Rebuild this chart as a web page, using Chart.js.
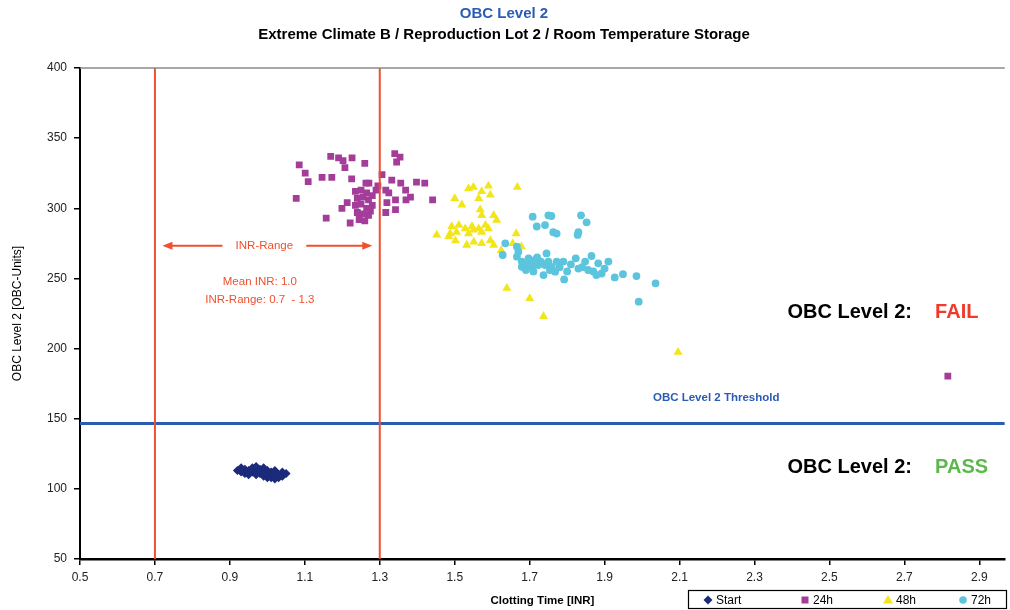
<!DOCTYPE html>
<html>
<head>
<meta charset="utf-8">
<script src="https://cdn.jsdelivr.net/npm/chart.js@4.4.1/dist/chart.umd.min.js"></script>
<style>
  html, body { margin: 0; padding: 0; background: #fff; }
</style>
</head>
<body>
<canvas id="chart" width="1010" height="610"></canvas>
<script>
// OBC Level 2 scatter

const series_names = ["Start", "24h", "48h", "72h"];

const start_pts = [
  [0.92,113],[0.93,112],[0.93,115],[0.94,111],[0.94,114],[0.95,113],[0.95,110],[0.96,112],
  [0.96,115],[0.97,113],[0.97,116],[0.97,110],[0.98,114],[0.98,111],[0.99,112],[0.99,109],
  [0.99,115],[1.00,113],[1.00,108],[1.00,110],[1.01,112],[1.01,108],[1.02,111],[1.02,107],
  [1.02,113],[1.03,110],[1.03,108],[1.04,112],[1.04,109],[1.05,111]
];

const h24_pts = [
  [1.085,331],[1.169,337],[1.202,334],[1.226,336],[1.207,329],[1.260,332],[1.101,325],[1.109,319],
  [1.146,322],[1.172,322],[1.225,321],[1.077,307],[1.157,293],[1.221,289.5],[1.199,300],[1.213,304],
  [1.271,318],[1.263,318],[1.340,339],[1.354,336.5],[1.345,333],[1.306,324],[1.332,320],[1.356,318],
  [1.369,313],[1.316,313],[1.324,311],[1.319,304],[1.342,306],[1.370,306],[1.382,308],[1.398,318.7],
  [1.420,318],[1.441,306],[1.342,299],[1.316,297],[1.235,312],[1.250,313],[1.265,311],[1.240,307],
  [1.255,308],[1.270,306],[1.280,309],[1.235,302],[1.250,303],[1.265,300],[1.280,302],[1.240,297],
  [1.255,296],[1.270,295],[1.245,292],[1.260,291],[1.275,298],[1.290,313],[1.295,316],[1.190,336],
  [2.816,180.4]
];

const h48_pts = [
  [1.537,314.2],[1.550,315],[1.572,312],[1.590,316],[1.595,309.5],[1.500,307],[1.519,302.5],[1.564,307],
  [1.667,315],[1.568,299],[1.572,295],[1.604,295],[1.612,291.6],[1.492,287],[1.511,288],[1.528,285.5],
  [1.546,287],[1.564,285.5],[1.582,288],[1.590,285.5],[1.488,282],[1.505,283],[1.537,282],[1.550,284.6],
  [1.572,283],[1.452,281],[1.484,280],[1.502,276.9],[1.532,273.8],[1.551,276],[1.572,275],[1.595,277],
  [1.604,273.8],[1.664,282],[1.624,270],[1.639,243],[1.700,235.7],[1.737,223],[1.678,272.6],[1.697,258],
  [1.655,275],[2.096,197.5]
];

const h72_pts = [
  [1.708,294],[1.750,295],[1.758,294.5],[1.719,287],[1.741,288],[1.763,283],[1.772,282],[1.837,295],
  [1.852,290],[1.830,283],[1.828,281],[1.635,275],[1.666,272.6],[1.628,266.7],[1.666,265.5],[1.670,269],
  [1.697,264.3],[1.714,263],[1.688,259.5],[1.706,258.3],[1.723,259.5],[1.679,262],[1.679,258.3],[1.741,259.5],
  [1.759,258.3],[1.745,267.8],[1.772,262],[1.790,262],[1.754,256],[1.737,252.4],[1.768,254.8],[1.792,249.3],
  [1.823,264.3],[1.848,262],[1.865,266],[1.830,257],[1.856,256],[1.883,260.8],[1.910,262],[1.892,253.5],
  [1.878,252.4],[1.927,250.7],[1.949,253],[1.985,251.7],[2.036,246.5],[1.991,233.4],[1.700,262],[1.720,265],
  [1.730,262],[1.690,256],[1.710,255],[1.750,262],[1.780,258],[1.800,255],[1.810,260],[1.840,258],
  [1.870,255],[1.900,257]
];

const x_ticks = [0.5,0.7,0.9,1.1,1.3,1.5,1.7,1.9,2.1,2.3,2.5,2.7,2.9];
const x_min = 0.5, x_max = 2.968;
const y_min = 50, y_max = 400, y_step = 50;

const inr_low = 0.7, inr_high = 1.3;
const threshold = 146.5;

const colors = ["#1c2a7c", "#a43d9a", "#f2e51a", "#5cc5dd"];
const red = "#f0502e";
const blue = "#2b5cb4";
const font = "'Liberation Sans', Arial, sans-serif";

function toXY(pts){
  return pts.map(p => ({x: p[0], y: p[1]}));
}

function vline(v){
  return [{x: v, y: y_min}, {x: v, y: y_max}];
}

// text and legend drawn on top of the plot
const overlay = {
  id: 'overlay',
  afterDatasetsDraw(chart){
    const {ctx, chartArea, scales} = chart;
    const x = scales.x, y = scales.y;
    ctx.save();

    // top frame line
    ctx.strokeStyle = "#8a8a8a";
    ctx.lineWidth = 1.5;
    ctx.beginPath();
    ctx.moveTo(chartArea.left, chartArea.top);
    ctx.lineTo(chartArea.right, chartArea.top);
    ctx.stroke();

    // INR-Range arrows
    const ay = y.getPixelForValue(273.3);
    const ax0 = x.getPixelForValue(0.72), ax1 = x.getPixelForValue(1.28);
    ctx.strokeStyle = red;
    ctx.fillStyle = red;
    ctx.lineWidth = 2;
    ctx.beginPath();
    ctx.moveTo(ax0 + 6, ay); ctx.lineTo(ax0 + 60, ay);
    ctx.moveTo(ax1 - 66, ay); ctx.lineTo(ax1 - 6, ay);
    ctx.stroke();
    ctx.beginPath();
    ctx.moveTo(ax0, ay); ctx.lineTo(ax0 + 10, ay - 4); ctx.lineTo(ax0 + 10, ay + 4); ctx.closePath();
    ctx.moveTo(ax1, ay); ctx.lineTo(ax1 - 10, ay - 4); ctx.lineTo(ax1 - 10, ay + 4); ctx.closePath();
    ctx.fill();

    ctx.textAlign = "center";
    ctx.textBaseline = "middle";
    ctx.font = "11.5px " + font;
    const cx = x.getPixelForValue(0.98);
    ctx.fillText("INR-Range", (ax0 + 60 + ax1 - 66) / 2, ay);
    ctx.fillText("Mean INR: 1.0", cx, y.getPixelForValue(247.6));
    ctx.fillText("INR-Range: 0.7  - 1.3", cx, y.getPixelForValue(235.1));

    // threshold label
    ctx.textAlign = "left";
    ctx.fillStyle = blue;
    ctx.font = "bold 11.5px " + font;
    ctx.fillText("OBC Level 2 Threshold", x.getPixelForValue(2.029), y.getPixelForValue(164.8));

    // FAIL / PASS
    ctx.font = "bold 20px " + font;
    ctx.fillStyle = "#000";
    const lx = x.getPixelForValue(2.388), rx = x.getPixelForValue(2.782);
    ctx.fillText("OBC Level 2:", lx, y.getPixelForValue(226));
    ctx.fillText("OBC Level 2:", lx, y.getPixelForValue(114.9));
    ctx.fillStyle = "#f03a2a";
    ctx.fillText("FAIL", rx, y.getPixelForValue(226));
    ctx.fillStyle = "#5cb84a";
    ctx.fillText("PASS", rx, y.getPixelForValue(114.9));
    ctx.restore();
  },
  afterDraw(chart){
    const ctx = chart.ctx;
    ctx.save();
    // legend box
    ctx.strokeStyle = "#000";
    ctx.lineWidth = 1.2;
    ctx.strokeRect(688.5, 590.5, 318, 18);
    const lx = [708, 805, 888, 963];
    const ly = 600;
    ctx.font = "12px " + font;
    ctx.textBaseline = "middle";
    ctx.textAlign = "left";
    series_names.forEach((name, i) => {
      const px = lx[i];
      ctx.fillStyle = colors[i];
      ctx.beginPath();
      if (i == 0){
        ctx.moveTo(px, ly - 4.5); ctx.lineTo(px + 4.5, ly); ctx.lineTo(px, ly + 4.5); ctx.lineTo(px - 4.5, ly);
        ctx.closePath();
      } else if (i == 1){
        ctx.rect(px - 3.5, ly - 3.5, 7, 7);
      } else if (i == 2){
        ctx.moveTo(px, ly - 5); ctx.lineTo(px + 5, ly + 3.5); ctx.lineTo(px - 5, ly + 3.5); ctx.closePath();
      } else {
        ctx.arc(px, ly, 3.8, 0, Math.PI * 2);
      }
      ctx.fill();
      ctx.fillStyle = "#000";
      ctx.fillText(name, px + 8, ly + 0.5);
    });
    ctx.restore();
  }
};

function scatterSet(label, pts, i, style, r, order){
  return {
    type: 'scatter',
    label: label,
    data: toXY(pts),
    pointStyle: style,
    pointRadius: r,
    pointHoverRadius: r,
    backgroundColor: colors[i],
    borderColor: colors[i],
    borderWidth: 0,
    order: order
  };
}

function lineSet(label, data, color, width){
  return {
    type: 'line',
    label: label,
    data: data,
    borderColor: color,
    borderWidth: width,
    pointRadius: 0,
    fill: false,
    order: 0
  };
}

const ctx = document.getElementById('chart');
const mychart = new Chart(ctx, {
  data: {
    datasets: [
      scatterSet(series_names[0], start_pts, 0, 'rectRot', 4.5, 4),
      scatterSet(series_names[1], h24_pts, 1, 'rect', 4.8, 3),
      scatterSet(series_names[2], h48_pts, 2, 'triangle', 5.2, 2),
      scatterSet(series_names[3], h72_pts, 3, 'circle', 3.9, 1),
      lineSet("INR low", vline(inr_low), red, 2),
      lineSet("INR high", vline(inr_high), red, 2),
      lineSet("OBC Level 2 Threshold", [{x: x_min, y: threshold}, {x: x_max, y: threshold}], blue, 3)
    ]
  },
  options: {
    responsive: false,
    animation: false,
    layout: {padding: {left: 0, right: 2, top: 0, bottom: 0}},
    plugins: {
      legend: {display: false},
      tooltip: {enabled: false},
      title: {
        display: true,
        text: "OBC Level 2",
        color: blue,
        font: {family: font, size: 15, weight: 'bold'},
        padding: {top: 5, bottom: 0}
      },
      subtitle: {
        display: true,
        text: "Extreme Climate B / Reproduction Lot 2 / Room Temperature Storage",
        color: "#000",
        font: {family: font, size: 15, weight: 'bold'},
        padding: {top: 3, bottom: 24}
      }
    },
    scales: {
      x: {
        type: 'linear',
        position: 'bottom',
        min: x_min,
        max: x_max,
        afterBuildTicks: scale => { scale.ticks = x_ticks.map(v => ({value: v})); },
        afterFit: scale => { scale.height = 51; },
        ticks: {
          color: "#222",
          font: {family: font, size: 12},
          padding: 5,
          maxRotation: 0,
          callback: v => Number(v).toFixed(1)
        },
        grid: {drawOnChartArea: false, drawTicks: true, tickLength: 6, color: "#000", lineWidth: 1.5},
        border: {color: "#000", width: 2.5},
        title: {
          display: true,
          text: "Clotting Time [INR]",
          color: "#000",
          font: {family: font, size: 11.5, weight: 'bold'},
          padding: {top: 0, bottom: 2}
        }
      },
      y: {
        type: 'linear',
        min: y_min,
        max: y_max,
        afterFit: scale => { scale.width = 80; },
        ticks: {
          stepSize: y_step,
          color: "#222",
          font: {family: font, size: 12},
          padding: 7
        },
        grid: {drawOnChartArea: false, drawTicks: true, tickLength: 6, color: "#000", lineWidth: 1.5},
        border: {color: "#000", width: 2},
        title: {
          display: true,
          text: "OBC Level 2 [OBC-Units]",
          color: "#000",
          font: {family: font, size: 12},
          padding: {top: 10, bottom: 0}
        }
      }
    }
  },
  plugins: [overlay]
});
</script>
</body>
</html>
